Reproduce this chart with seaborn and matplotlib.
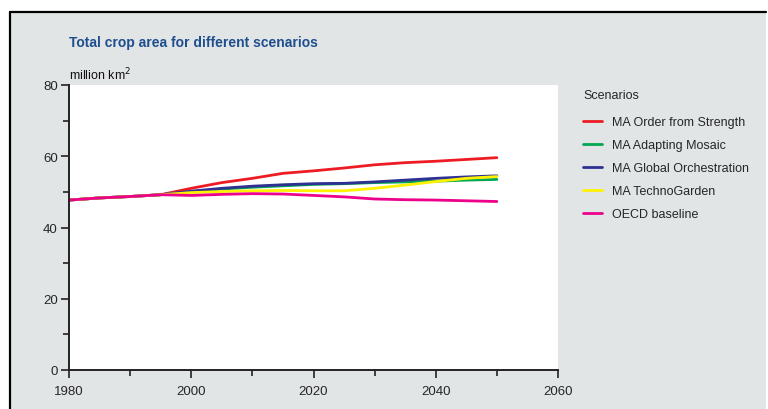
import numpy as np
import pandas as pd
import matplotlib
matplotlib.use("Agg")
import matplotlib.pyplot as plt
from matplotlib.patches import Rectangle
from matplotlib.lines import Line2D
from matplotlib.ticker import MultipleLocator
import seaborn as sns

# --- Daten ---------------------------------------------------------
years = [1980, 1985, 1990, 1995, 2000, 2005, 2010, 2015, 2020, 2025, 2030, 2035, 2040, 2045, 2050]
order_from_strength = [47.7, 48.3, 48.7, 49.2, 51.0, 52.6, 53.8, 55.2, 55.9, 56.7, 57.6, 58.2, 58.6, 59.1, 59.6]
adapting_mosaic = [47.7, 48.3, 48.7, 49.2, 50.0, 50.8, 51.3, 51.7, 52.1, 52.3, 52.6, 52.8, 53.0, 53.3, 53.5]
global_orchestration = [47.7, 48.3, 48.7, 49.2, 50.2, 51.0, 51.6, 52.0, 52.3, 52.4, 52.8, 53.3, 53.8, 54.2, 54.5]
techno_garden = [47.7, 48.3, 48.7, 49.2, 49.8, 50.1, 50.3, 50.4, 50.3, 50.3, 51.0, 51.9, 52.9, 53.8, 54.3]
oecd_baseline = [47.7, 48.3, 48.7, 49.2, 49.0, 49.3, 49.5, 49.4, 49.0, 48.6, 48.0, 47.8, 47.7, 47.5, 47.3]

scenarios = ["MA Order from Strength", "MA Adapting Mosaic", "MA Global Orchestration",
             "MA TechnoGarden", "OECD baseline"]
series = [order_from_strength, adapting_mosaic, global_orchestration, techno_garden, oecd_baseline]
colors = ["#ED1C24", "#00A651", "#2E3192", "#FFF200", "#EC008C"]

df = pd.concat(
    [pd.DataFrame({"year": years, "area": vals, "scenario": name})
     for name, vals in zip(scenarios, series)],
    ignore_index=True,
)

sns.set_theme(style="white")
plt.rcParams["font.family"] = ["Liberation Sans", "DejaVu Sans"]

BG = "#E2E5E6"
W, H = 768, 410
fig = plt.figure(figsize=(W / 100, H / 100), dpi=100, facecolor="white")

# grauer Rahmen
fig.patches.append(Rectangle((10 / W, 0), 756 / W, 1 - 13 / H, transform=fig.transFigure,
                             facecolor=BG, edgecolor="none", zorder=-2))
fig.lines.append(Line2D([10 / W, 766 / W], [1 - 13 / H, 1 - 13 / H], transform=fig.transFigure,
                        color="black", lw=1.6))
fig.lines.append(Line2D([10 / W, 10 / W], [0, 1 - 13 / H], transform=fig.transFigure,
                        color="black", lw=1.6))

ax = fig.add_axes([69 / W, 1 - 371 / H, (558 - 69) / W, (371 - 86) / H])
ax.set_facecolor("white")

sns.lineplot(data=df, x="year", y="area", hue="scenario", hue_order=scenarios,
             palette=colors, linewidth=2.0, ax=ax, legend=False)

ax.set_xlim(1980, 2060)
ax.set_ylim(0, 80)
ax.xaxis.set_major_locator(MultipleLocator(20))
ax.xaxis.set_minor_locator(MultipleLocator(10))
ax.yaxis.set_major_locator(MultipleLocator(20))
ax.yaxis.set_minor_locator(MultipleLocator(10))
ax.tick_params(axis="both", which="major", direction="out", length=6, width=1.2,
               labelsize=9.5, color="#222222", pad=2, bottom=True, left=True)
ax.tick_params(axis="x", which="major", pad=5)
ax.tick_params(axis="both", which="minor", direction="out", length=4, width=1.2,
               color="#222222", bottom=True, left=True)
ax.set_xlabel("")
ax.set_ylabel("")
for side in ["top", "right"]:
    ax.spines[side].set_visible(False)
for side in ["left", "bottom"]:
    ax.spines[side].set_color("#222222")
    ax.spines[side].set_linewidth(1.4)

fig.text(69 / W, 1 - 43 / H, "Total crop area for different scenarios", color="#1F4E8F",
         fontsize=10, fontweight="bold", va="center", ha="left")
fig.text(69 / W, 1 - 75 / H, "million km$^2$", fontsize=9, va="center", ha="left",
         color="#111111")

handles = [Line2D([0], [0], color=c, lw=2.0) for c in colors]
leg = ax.legend(handles, scenarios, title="Scenarios", loc="upper left",
                bbox_to_anchor=(583 / W, 1 - 90 / H), bbox_transform=fig.transFigure,
                frameon=False, fontsize=9, title_fontsize=9, borderpad=0, borderaxespad=0,
                handlelength=1.5, handletextpad=0.8, labelspacing=0.88)
leg._legend_box.align = "left"
leg._legend_box.sep = 11

fig.savefig("out.png", dpi=100, facecolor="white")
